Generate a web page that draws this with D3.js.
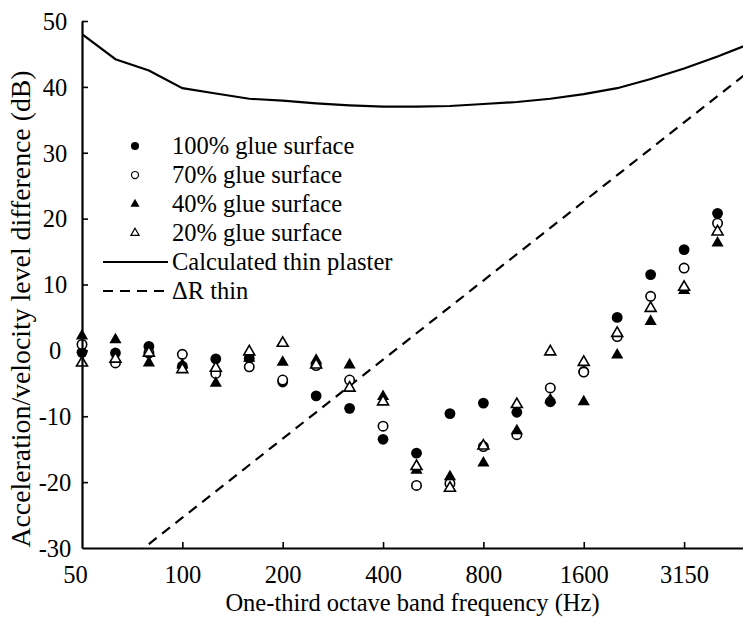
<!DOCTYPE html>
<html>
<head>
<meta charset="utf-8">
<script src="https://cdn.jsdelivr.net/npm/d3@7"></script>
<style>
  body { margin: 0; background: #fff; }
  svg { display: block; }
</style>
</head>
<body>
<svg id="chart" width="743" height="617"></svg>
<script>
// One-third octave band centre frequencies (Hz)
const bands = ["50","63","80","100","125","160","200","250","315","400","500","630","800","1000","1250","1600","2000","2500","3150","4000","5000"];
// Labelled positions on the frequency axis
const tickBands = ["50","100","200","400","800","1600","3150"];
const yTicks = [50, 40, 30, 20, 10, 0, -10, -20, -30];

// Measured acceleration/velocity level difference (dB), 50 Hz .. 4000 Hz
const glue100 = [-0.3, -0.4, 0.6, -2.4, -1.3, -1.2, -4.8, -6.9, -8.8, -13.5, -15.6, -9.6, -8.0, -9.4, -7.8, -3.2, 5.0, 11.5, 15.3, 20.8];
const glue70  = [0.9, -1.9, -0.4, -0.6, -3.5, -2.5, -4.5, -2.3, -4.5, -11.5, -20.5, -20.2, -14.6, -12.8, -5.7, -3.3, 2.1, 8.2, 12.5, 19.3];
const glue40  = [2.2, 1.6, -1.9, -2.2, -5.0, -1.2, -1.8, -1.5, -2.2, -7.0, -18.2, -19.2, -17.1, -12.2, -7.5, -7.8, -0.7, 4.4, 9.1, 16.3];
const glue20  = [-1.9, -1.3, -0.4, -2.9, -2.7, -0.2, 1.1, -2.2, -5.7, -7.8, -17.6, -20.9, -14.5, -8.2, -0.2, -1.8, 2.6, 6.4, 9.6, 18.0];

// Calculated thin plaster curve and ΔR thin, 50 Hz .. 5000 Hz
const calcThin = [48.0, 44.2, 42.5, 39.8, 39.0, 38.2, 37.9, 37.5, 37.2, 37.0, 37.0, 37.1, 37.4, 37.7, 38.2, 38.9, 39.8, 41.2, 42.8, 44.6, 46.6];
const deltaR   = [-37.4, -33.4, -29.4, -25.4, -21.4, -17.4, -13.4, -9.4, -5.4, -1.4, 2.6, 6.6, 10.6, 14.6, 18.6, 22.6, 26.6, 30.6, 34.6, 38.6, 42.6];

const legendLabels = ["100% glue surface", "70% glue surface", "40% glue surface", "20% glue surface", "Calculated thin plaster", "\u0394R thin"];

const FONT = "'Liberation Serif', 'Times New Roman', Times, serif";
const FS = 24.5;       // tick, legend and x title size
const FS_YTITLE = 27.8;

const svg = d3.select("#chart").attr("font-family", FONT);
const padLeft = 82, padTop = 21, axisY = 548;

const x = d3.scaleLinear().domain([0, bands.length - 1]).range([padLeft, padLeft + 33.45 * (bands.length - 1)]);
const y = d3.scaleLinear().domain([-30, 50]).range([axisY, padTop]);

svg.append("defs").append("clipPath").attr("id", "plotArea")
  .append("rect").attr("x", padLeft).attr("y", padTop).attr("width", 743 - padLeft).attr("height", axisY - padTop);

// Lines
const line = d3.line().x((d, i) => x(i)).y(d => y(d));
const plot = svg.append("g").attr("clip-path", "url(#plotArea)");
plot.append("path").datum(calcThin).attr("d", line)
  .attr("fill", "none").attr("stroke", "#000").attr("stroke-width", 2.2);
plot.append("path").datum(deltaR).attr("d", line)
  .attr("fill", "none").attr("stroke", "#000").attr("stroke-width", 2.2)
  .attr("stroke-dasharray", "10,7");

// Markers
const tri = d3.symbol().type(d3.symbolTriangle);
const series = [
  { data: glue100, shape: "circle", filled: true },
  { data: glue70,  shape: "circle", filled: false },
  { data: glue40,  shape: "triangle", filled: true },
  { data: glue20,  shape: "triangle", filled: false }
];

function drawMarker(g, shape, filled, cx, cy, scale) {
  if (shape === "circle") {
    g.append("circle").attr("cx", cx).attr("cy", cy)
      .attr("r", (filled ? 5.4 : 4.7) * scale)
      .attr("fill", filled ? "#000" : "#fff")
      .attr("stroke", "#000").attr("stroke-width", filled ? 0 : 1.6 * scale);
  } else {
    g.append("path").attr("d", tri.size((filled ? 64 : 52) * scale * scale)())
      .attr("transform", `translate(${cx},${cy})`)
      .attr("fill", filled ? "#000" : "#fff")
      .attr("stroke", "#000").attr("stroke-width", filled ? 0 : 1.6 * scale);
  }
}

const marks = svg.append("g");
series.forEach(s => {
  s.data.forEach((v, i) => drawMarker(marks, s.shape, s.filled, x(i), y(v), 1));
});

// Axes
const xAxis = d3.axisBottom(x)
  .tickValues(tickBands.map(b => bands.indexOf(b)))
  .tickFormat(i => bands[i])
  .tickSizeInner(-6).tickSizeOuter(0);
const gx = svg.append("g").attr("transform", `translate(0,${axisY})`).call(xAxis)
  .attr("font-family", FONT).attr("font-size", FS);
gx.select(".domain").attr("stroke", "#000").attr("stroke-width", 2.2);
gx.selectAll(".tick line").attr("stroke", "#000").attr("stroke-width", 1.6)
  .attr("display", d => d === 0 ? "none" : null);
gx.selectAll(".tick text")
  .attr("y", 35).attr("dy", 0)
  .attr("x", d => d === 0 ? -7 : 0);

const yAxis = d3.axisLeft(y).tickValues(yTicks).tickFormat(d => String(d))
  .tickSizeInner(-6).tickSizeOuter(0);
const gy = svg.append("g").attr("transform", `translate(${padLeft},0)`).call(yAxis)
  .attr("font-family", FONT).attr("font-size", FS);
gy.select(".domain").attr("stroke", "#000").attr("stroke-width", 2.2);
gy.selectAll(".tick line").attr("stroke", "#000").attr("stroke-width", 1.6)
  .attr("display", d => d === -30 ? "none" : null);
gy.selectAll(".tick text")
  .attr("x", -27).attr("dy", "0.34em")
  .attr("text-anchor", "middle");

// Axis titles
svg.append("text")
  .attr("x", (padLeft + 743) / 2).attr("y", 611)
  .attr("text-anchor", "middle").attr("font-size", FS)
  .text("One-third octave band frequency (Hz)");
svg.append("text")
  .attr("transform", "translate(30,309) rotate(-90)")
  .attr("text-anchor", "middle").attr("font-size", FS_YTITLE)
  .text("Acceleration/velocity level difference (dB)");

// Legend
const rows = [146, 175, 204, 233, 262, 291];
const legend = svg.append("g");
series.forEach((s, k) => drawMarker(legend, s.shape, s.filled, 135, rows[k], 0.75));
legend.append("line").attr("x1", 103).attr("x2", 168).attr("y1", rows[4]).attr("y2", rows[4])
  .attr("stroke", "#000").attr("stroke-width", 2);
legend.append("line").attr("x1", 103).attr("x2", 168).attr("y1", rows[5]).attr("y2", rows[5])
  .attr("stroke", "#000").attr("stroke-width", 2).attr("stroke-dasharray", "10,7");
legendLabels.forEach((t, k) => {
  legend.append("text")
    .attr("x", 172).attr("y", rows[k])
    .attr("dy", "0.34em").attr("font-size", FS)
    .text(t);
});
</script>
</body>
</html>
